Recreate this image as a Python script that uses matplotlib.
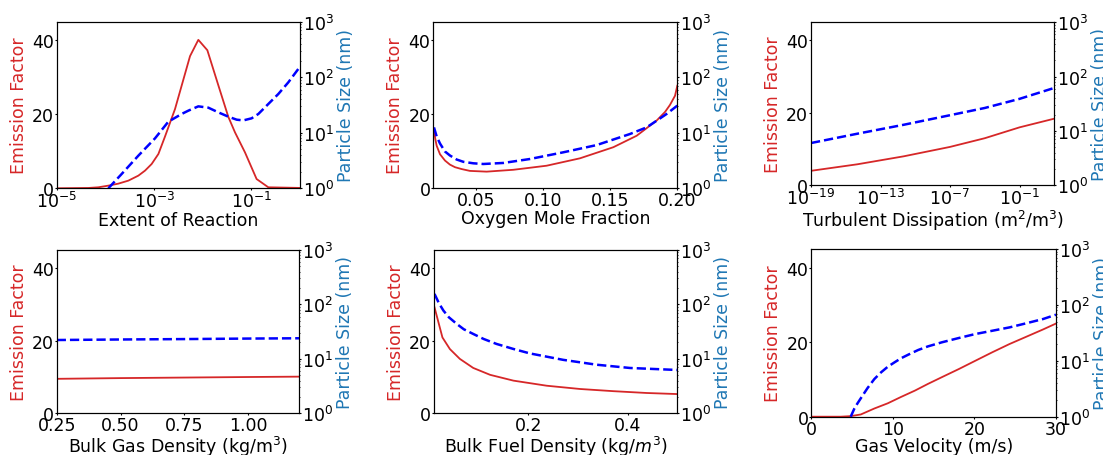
import matplotlib
matplotlib.use("Agg")
import matplotlib.pyplot as plt
import matplotlib.ticker as mticker

plt.rcParams['font.family'] = ['DejaVu Sans']
plt.rcParams['font.size'] = 12.5
plt.rcParams['xtick.major.size'] = 1.6
plt.rcParams['ytick.major.size'] = 1.6
plt.rcParams['xtick.minor.size'] = 1.0
plt.rcParams['ytick.minor.size'] = 1.0

RED = '#d62728'
BLUE_LABEL = '#1f77b4'

# ---- Panel 1: Extent of Reaction ----
p1_x_red = [1e-5, 4.42e-5, 7.08e-5, 1.14e-4, 1.83e-4, 2.94e-4, 4.72e-4, 6.47e-4, 8.87e-4,
            1.22e-3, 1.67e-3, 2.68e-3, 5.46e-3, 8.09e-3, 1.24e-2, 2.09e-2, 3.35e-2,
            4.60e-2, 7.38e-2, 0.128, 0.223, 1.0]
p1_y_red = [0, 0.09, 0.27, 0.72, 1.26, 2.07, 3.42, 4.77, 6.57,
            9.27, 14.0, 21.4, 35.7, 40.1, 37.3, 27.8, 19.3,
            15.1, 9.7, 2.5, 0.27, 0.1]
p1_x_blue = [1.14e-4, 2.14e-4, 4.72e-4, 1.04e-3, 1.95e-3, 3.67e-3, 5.04e-3, 8.09e-3,
             1.30e-2, 2.09e-2, 3.35e-2, 4.98e-2, 6.82e-2, 0.101, 0.139, 0.223,
             0.358, 0.575, 1.0]
p1_y_blue = [1.0, 1.81, 3.87, 7.94, 15.8, 21.8, 25.0, 29.9,
             28.3, 23.3, 19.5, 17.2, 16.7, 18.2, 21.8, 33.0,
             49.9, 80.9, 155]

# ---- Panel 2: Oxygen Mole Fraction ----
p2_x_red = [0.0185, 0.0195, 0.0205, 0.023, 0.0267, 0.0304, 0.0342, 0.0391, 0.0453,
            0.0578, 0.0777, 0.1025, 0.1274, 0.1523, 0.1697, 0.1846, 0.1908, 0.1945,
            0.1983, 0.20]
p2_y_red = [15.6, 13.3, 11.5, 9.2, 7.5, 6.4, 5.7, 5.2, 4.7,
            4.5, 5.0, 6.1, 8.1, 11.1, 14.2, 18.3, 20.6, 22.5,
            25.0, 27.7]
p2_x_blue = [0.0185, 0.0205, 0.023, 0.0267, 0.0304, 0.0354, 0.0404, 0.0478, 0.0553,
             0.0702, 0.0901, 0.115, 0.1398, 0.1647, 0.1771, 0.1846, 0.192, 0.20]
p2_y_blue = [12.5, 8.6, 6.4, 4.6, 3.9, 3.3, 3.0, 2.82, 2.74,
             2.86, 3.37, 4.45, 6.0, 9.5, 12.5, 16.5, 21.8, 30.8]

# ---- Panel 3: Turbulent Dissipation ----
p3_x = [1e-19, 1e-15, 1e-11, 1e-7, 1e-4, 1e-1, 1e2]
p3_y_red = [4.0, 5.8, 8.0, 10.6, 13.0, 16.0, 18.4]
p3_y_blue = [6.0, 8.9, 13.0, 19.5, 26.5, 39.0, 62.0]

# ---- Panel 4: Bulk Gas Density ----
p4_x = [0.25, 0.5, 0.75, 1.0, 1.2]
p4_y_red = [9.5, 9.7, 9.85, 10.0, 10.1]
p4_y_blue = [22.2, 22.7, 23.1, 23.6, 23.9]

# ---- Panel 5: Bulk Fuel Density ----
p5_x_red = [0.011, 0.027, 0.042, 0.062, 0.089, 0.123, 0.170, 0.237, 0.304, 0.371, 0.438, 0.5]
p5_y_red = [29.2, 20.9, 17.7, 15.0, 12.5, 10.6, 9.0, 7.6, 6.7, 6.1, 5.6, 5.3]
p5_x_blue = [0.011, 0.02, 0.029, 0.04, 0.056, 0.07, 0.089, 0.11, 0.136, 0.17, 0.203,
             0.27, 0.338, 0.405, 0.5]
p5_y_blue = [156, 105, 77, 58, 43.7, 35, 28.7, 23.2, 18.8, 15.2, 12.6,
             9.6, 7.8, 6.8, 6.25]

# ---- Panel 6: Gas Velocity ----
p6_x_red = [0, 3.6, 4.83, 6.07, 7.73, 9.38, 11.0, 12.7, 14.3, 16.0, 18.1, 20.1,
            22.2, 24.3, 26.3, 28.4, 30]
p6_y_red = [0, 0.0, 0.15, 0.6, 2.2, 3.6, 5.3, 7.0, 8.8, 10.6, 12.8, 15.0,
            17.3, 19.5, 21.4, 23.4, 25.0]
p6_x_blue = [4.83, 5.25, 5.66, 6.28, 6.90, 7.73, 8.55, 9.38, 10.2, 11.0, 11.9, 13.1,
             14.3, 16.0, 18.1, 20.1, 22.2, 24.3, 26.3, 28.4, 30]
p6_y_blue = [1.0, 1.37, 1.73, 2.38, 3.26, 4.72, 6.21, 7.84, 9.38, 11.1, 12.9, 15.6,
             18.1, 21.4, 25.6, 30.1, 34.5, 39.6, 46.7, 55.8, 66.8]

xlabels = ['Extent of Reaction', 'Oxygen Mole Fraction',
           'Turbulent Dissipation (m$^2$/m$^3$)',
           'Bulk Gas Density (kg/m$^3$)', 'Bulk Fuel Density (kg/$m^3$)',
           'Gas Velocity (m/s)']

W, H = 1103, 456
boxes = [(57, 300, 22.7, 189.3), (433.3, 677.3, 22.7, 189.3), (811, 1054.3, 23.3, 186.3),
         (56.7, 299.3, 251, 414.3), (434, 677.3, 251, 414.3), (811.3, 1056, 250, 417.7)]

fig = plt.figure(figsize=(W / 100, H / 100), dpi=100)

data = [
    (p1_x_red, p1_y_red, p1_x_blue, p1_y_blue),
    (p2_x_red, p2_y_red, p2_x_blue, p2_y_blue),
    (p3_x, p3_y_red, p3_x, p3_y_blue),
    (p4_x, p4_y_red, p4_x, p4_y_blue),
    (p5_x_red, p5_y_red, p5_x_blue, p5_y_blue),
    (p6_x_red, p6_y_red, p6_x_blue, p6_y_blue),
]
xlims = [(1e-5, 1.0), (0.018, 0.20), (1e-19, 1e2), (0.25, 1.2), (0.01, 0.5), (0, 30)]

for i, ((xr, yr, xb, yb), (l, r, t, b)) in enumerate(zip(data, boxes)):
    ax = fig.add_axes([l / W, (H - b) / H, (r - l) / W, (b - t) / H])
    ax.plot(xr, yr, color=RED, lw=1.3)
    ax.set_ylim(0, 45)
    ax.set_yticks([0, 20, 40])
    ax.set_ylabel('Emission Factor', color=RED, labelpad=3)
    ax.set_xlabel(xlabels[i], labelpad=-0.5)
    if i in (0, 2):
        ax.set_xscale('log')
        if i == 0:
            ax.set_xticks([1e-5, 1e-3, 1e-1])
        else:
            ax.set_xticks([1e-19, 1e-13, 1e-7, 1e-1])
        ax.xaxis.set_minor_locator(mticker.NullLocator())
    elif i == 1:
        ax.set_xticks([0.05, 0.10, 0.15, 0.20])
    elif i == 3:
        ax.set_xticks([0.25, 0.50, 0.75, 1.00])
    elif i == 4:
        ax.set_xticks([0.2, 0.4])
    else:
        ax.set_xticks([0, 10, 20, 30])
    ax.set_xlim(*xlims[i])
    ax.tick_params(axis='x', pad=0.5)
    ax.tick_params(axis='y', pad=0.5)

    ax2 = ax.twinx()
    ax2.plot(xb, yb, color='blue', ls='--', lw=1.8)
    ax2.set_yscale('log')
    ax2.set_ylim(1, 1000)
    ax2.set_yticks([1, 10, 100, 1000])
    ax2.set_ylabel('Particle Size (nm)', color=BLUE_LABEL, labelpad=2)
    ax2.tick_params(axis='y', pad=0.5)

fig.savefig('out.png', dpi=100)
